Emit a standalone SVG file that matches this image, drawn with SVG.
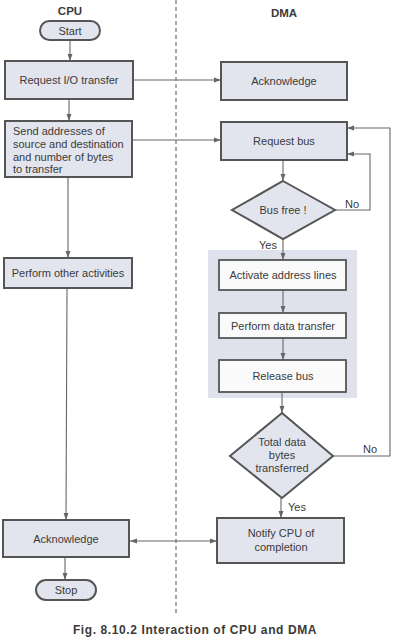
<svg xmlns="http://www.w3.org/2000/svg" width="401" height="642" viewBox="0 0 401 642">
<style>
text{font-family:"Liberation Sans",Arial,sans-serif;font-size:11px;fill:#3a3a3a}
.h{font-weight:bold;font-size:11.5px}
.c{text-anchor:middle}
.cap{font-weight:bold;font-size:12px;letter-spacing:0.6px}
.box{fill:#e3e5ee;stroke:#555;stroke-width:2}
.wbox{fill:#fafafa;stroke:#555;stroke-width:1.8}
.dia{fill:#e3e5ee;stroke:#555;stroke-width:2}
.ln{fill:none;stroke:#666;stroke-width:1.1}
</style>
<defs>
<marker id="ah" viewBox="0 0 10 10" refX="10" refY="5" markerWidth="7" markerHeight="7" orient="auto-start-reverse" markerUnits="userSpaceOnUse">
<path d="M0,1.5 L10,5 L0,8.5 Z" fill="#666"/>
</marker>
</defs>
<rect width="401" height="642" fill="#fff"/>
<line x1="176" y1="0" x2="176" y2="614" stroke="#555" stroke-width="1" stroke-dasharray="4,3"/>
<text class="h c" x="70" y="15">CPU</text>
<text class="h c" x="284" y="17">DMA</text>
<rect x="208" y="250" width="149" height="148" fill="#dfe2ec"/>
<g id="connectors">
<line class="ln" x1="70" y1="40" x2="70" y2="61" marker-end="url(#ah)"/>
<line class="ln" x1="133" y1="80" x2="221" y2="80" marker-end="url(#ah)"/>
<line class="ln" x1="69" y1="99" x2="69" y2="121" marker-end="url(#ah)"/>
<line class="ln" x1="132" y1="140" x2="221" y2="140" marker-end="url(#ah)"/>
<line class="ln" x1="68" y1="177" x2="68" y2="258" marker-end="url(#ah)"/>
<line class="ln" x1="67" y1="288" x2="66" y2="520" marker-end="url(#ah)"/>
<line class="ln" x1="65" y1="557" x2="65" y2="580" marker-end="url(#ah)"/>
<line class="ln" x1="283" y1="160" x2="283" y2="181" marker-end="url(#ah)"/>
<polyline class="ln" points="335,210 370,210 370,154 347,154" marker-end="url(#ah)"/>
<line class="ln" x1="283" y1="239" x2="283" y2="260" marker-end="url(#ah)"/>
<line class="ln" x1="283" y1="290" x2="283" y2="313" marker-end="url(#ah)"/>
<line class="ln" x1="283" y1="338" x2="283" y2="360" marker-end="url(#ah)"/>
<line class="ln" x1="282" y1="392" x2="282" y2="413" marker-end="url(#ah)"/>
<polyline class="ln" points="333,456 390,456 390,128 347,128" marker-end="url(#ah)"/>
<line class="ln" x1="281" y1="498" x2="281" y2="518" marker-end="url(#ah)"/>
<line class="ln" x1="130" y1="541" x2="217" y2="541" marker-start="url(#ah)" marker-end="url(#ah)"/>
<text x="345" y="208">No</text>
<text x="259" y="249">Yes</text>
<text x="363" y="453">No</text>
<text x="288" y="511">Yes</text>
</g>
<g id="start"><rect x="40" y="21" width="60" height="19" rx="9.5" class="box"/><text class="c" x="70" y="34.5">Start</text></g>
<g id="req-io"><rect x="5" y="61" width="128" height="38" class="box"/><text class="c" x="69" y="84">Request I/O transfer</text></g>
<g id="send-addr"><rect x="5" y="121" width="127" height="56" class="box"/>
<text x="13" y="135">Send addresses of</text><text x="13" y="148">source and destination</text><text x="13" y="160.5">and number of bytes</text><text x="13" y="172.5">to transfer</text></g>
<g id="perform-other"><rect x="4" y="258" width="128" height="30" class="box"/><text class="c" x="68" y="277">Perform other activities</text></g>
<g id="cpu-ack"><rect x="3" y="520" width="126" height="37" class="box"/><text class="c" x="66" y="543">Acknowledge</text></g>
<g id="stop"><rect x="36" y="580" width="60" height="20" rx="10" class="box"/><text class="c" x="66" y="594">Stop</text></g>
<g id="dma-ack"><rect x="221" y="62" width="126" height="38" class="box"/><text class="c" x="284" y="85">Acknowledge</text></g>
<g id="req-bus"><rect x="221" y="122" width="126" height="38" class="box"/><text class="c" x="284" y="145">Request bus</text></g>
<g id="bus-free"><polygon points="283,181 335,210 283,239 232,210" class="dia"/><text class="c" x="283" y="214">Bus free !</text></g>
<g id="activate"><rect x="219" y="260" width="127" height="30" class="wbox"/><text class="c" x="283" y="279">Activate address lines</text></g>
<g id="transfer"><rect x="219" y="313" width="127" height="25" class="wbox"/><text class="c" x="283" y="330">Perform data transfer</text></g>
<g id="release"><rect x="219" y="360" width="127" height="32" class="wbox"/><text class="c" x="283" y="380">Release bus</text></g>
<g id="total"><polygon points="282,413 333,456 282,498 230,456" class="dia"/>
<text class="c" x="282" y="446">Total data</text><text class="c" x="282" y="459">bytes</text><text class="c" x="282" y="472">transferred</text></g>
<g id="notify"><rect x="217" y="518" width="127" height="45" class="box"/><text class="c" x="281" y="537">Notify CPU of</text><text class="c" x="281" y="551">completion</text></g>
<text class="cap c" x="195" y="634">Fig. 8.10.2 Interaction of CPU and DMA</text>
</svg>
